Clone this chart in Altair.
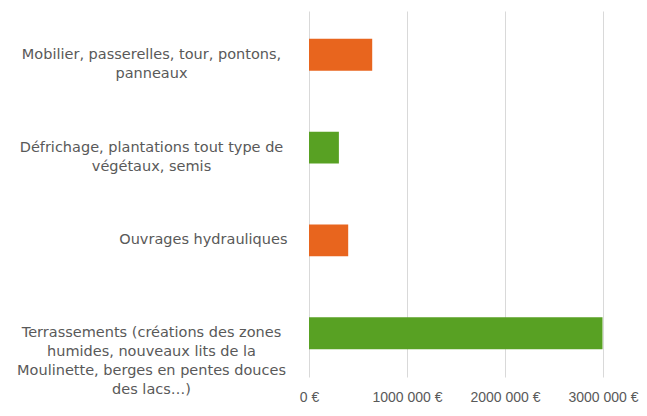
import altair as alt
import pandas as pd

categories = [
    "Mobilier, passerelles, tour, pontons,|panneaux",
    "Défrichage, plantations tout type de|végétaux, semis",
    "Ouvrages hydrauliques",
    "Terrassements (créations des zones|humides, nouveaux lits de la|Moulinette, berges en pentes douces|des lacs…)",
]
values = [645000, 305000, 400000, 2995000]
colors = ["#E8651E", "#58A123", "#E8651E", "#58A123"]
x_ticks = [0, 1000000, 2000000, 3000000]

df = pd.DataFrame({"cat": categories, "val": values, "col": colors})

single = "indexof(datum.value, '|') < 0"

chart = alt.Chart(df).mark_bar().encode(
    y=alt.Y(
        "cat:N",
        sort=categories,
        title=None,
        scale=alt.Scale(paddingInner=0.657, paddingOuter=0.3),
        axis=alt.Axis(
            labelExpr="split(datum.label, '|')",
            labelAlign={"condition": {"test": single, "value": "right"}, "value": "center"},
            labelPadding={"condition": {"test": single, "value": 22}, "value": 158},
            labelBaseline="middle",
            labelLimit=0,
            labelFont="DejaVu Sans",
            labelFontSize=14.5,
            labelLineHeight=19,
            labelColor="#595959",
            ticks=False,
            domain=False,
        ),
    ),
    x=alt.X(
        "val:Q",
        title=None,
        scale=alt.Scale(domain=[0, 3000000], nice=False),
        axis=alt.Axis(
            values=x_ticks,
            labelExpr="datum.value == 0 ? '0 €' : format(datum.value / 1000, 'd') + ' 000 €'",
            labelFont="Liberation Sans",
            labelFontSize=14,
            labelColor="#595959",
            labelPadding=13,
            labelBaseline="top",
            ticks=False,
            domain=False,
            grid=True,
            gridColor="#D9D9D9",
            labelFlush=False,
            labelOverlap=False,
        ),
    ),
    color=alt.Color("col:N", scale=None),
).properties(
    width=294,
    height=366,
    background="white",
    autosize=alt.AutoSizeParams(type="none"),
    padding={"left": 301, "top": 3, "right": 36, "bottom": 30},
).configure_view(stroke=None)

chart.save("out.html", embed_options={"renderer": "svg", "actions": False})
